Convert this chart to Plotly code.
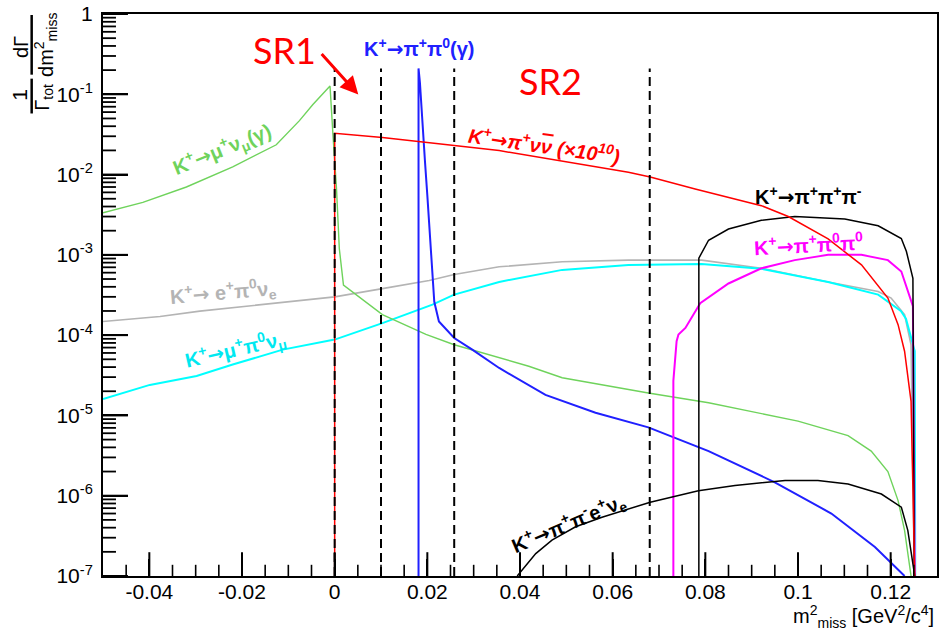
import math
import plotly.graph_objects as go

# ---------------- data ----------------
# K+ -> mu+ nu (gamma)
mu_nu_x = [-0.05, -0.0414, -0.032, -0.022, -0.0126, -0.0076, -0.0047, -0.001, -0.0004, 0.0,
           0.0004, 0.001, 0.0019, 0.0103, 0.0197, 0.0258, 0.0355, 0.0419, 0.0491, 0.0598,
           0.0677, 0.0807, 0.1, 0.1108, 0.1158, 0.1194, 0.1216, 0.123, 0.1244]
mu_nu_y = [3.35e-3, 4.5e-3, 7.0e-3, 1.25e-2, 2.35e-2, 4.7e-2, 7.45e-2, 0.127, 0.0335, 0.0164,
           6.6e-3, 1.2e-3, 4.2e-4, 1.8e-4, 1.02e-4, 7.6e-5, 5.2e-5, 4.1e-5, 2.95e-5, 2.3e-5,
           1.9e-5, 1.44e-5, 8.5e-6, 5.6e-6, 3.6e-6, 2.0e-6, 8.7e-7, 3.7e-7, 1e-7]

# K+ -> pi+ nu nubar (x 1e10)
pinn_x = [0.0, 0.0, 0.0103, 0.0258, 0.0355, 0.0634, 0.0681, 0.0778, 0.0807, 0.0921, 0.0979,
          0.1065, 0.1137, 0.1194, 0.1216, 0.123, 0.1244, 0.1252]
pinn_y = [1e-7, 0.0326, 0.029, 0.0229, 0.0199, 0.0107, 9.3e-3, 6.6e-3, 6.0e-3, 4.1e-3, 3.0e-3,
          1.58e-3, 7.5e-4, 2.9e-4, 1.35e-4, 6.3e-5, 1.5e-5, 1e-7]

# K+ -> pi+ pi0 (gamma)
pipi0_x = [0.0181, 0.0181, 0.0184, 0.0187, 0.0191, 0.0195, 0.0200, 0.0205, 0.0210, 0.0215,
           0.0225, 0.0258, 0.0297, 0.0355, 0.0455, 0.0563, 0.0677, 0.0807, 0.095, 0.1072,
           0.1166, 0.123]
pipi0_y = [1e-7, 0.21, 0.14, 0.068, 0.033, 0.0143, 5.5e-3, 2.1e-3, 6.8e-4, 2.6e-4,
           1.48e-4, 9.2e-5, 6.6e-5, 3.9e-5, 1.8e-5, 1.08e-5, 7.1e-6, 3.6e-6, 1.47e-6, 6.0e-7,
           2.3e-7, 1e-7]

# K+ -> e+ pi0 nu_e
ke3_x = [-0.05, -0.0377, -0.0291, -0.0184, -0.0076, 0.0, 0.0103, 0.0204, 0.0258, 0.0355,
         0.0491, 0.0634, 0.0792, 0.0921, 0.1065, 0.1173, 0.1201, 0.123, 0.1244, 0.1251]
ke3_y = [1.48e-4, 1.71e-4, 1.99e-4, 2.3e-4, 2.7e-4, 3.0e-4, 3.8e-4, 4.8e-4, 5.7e-4, 7.1e-4,
         8.2e-4, 8.6e-4, 8.6e-4, 6.8e-4, 4.6e-4, 3.5e-4, 2.9e-4, 1.8e-4, 7.6e-5, 1e-7]

# K+ -> mu+ pi0 nu_mu
km3_x = [-0.05, -0.0399, -0.0298, -0.022, -0.0112, 0.0, 0.0103, 0.0211, 0.0258, 0.0355,
         0.0491, 0.0634, 0.0792, 0.0921, 0.1065, 0.1173, 0.1222, 0.1233, 0.1252, 0.1253]
km3_y = [1.6e-5, 2.4e-5, 3.1e-5, 4.3e-5, 6.6e-5, 8.8e-5, 1.41e-4, 2.4e-4, 3.2e-4, 4.6e-4,
         6.5e-4, 7.5e-4, 7.7e-4, 6.7e-4, 4.6e-4, 3.2e-4, 2.0e-4, 1.6e-4, 6.3e-5, 1e-7]

# K+ -> pi+ pi+ pi-
k3pi_x = [0.0786, 0.0786, 0.0807, 0.085, 0.0921, 0.0993, 0.1101, 0.1173, 0.1223, 0.1234,
          0.1248, 0.1251]
k3pi_y = [1e-7, 9.1e-4, 1.52e-3, 2.1e-3, 2.7e-3, 3.0e-3, 2.8e-3, 2.3e-3, 1.6e-3, 1.1e-3,
          5.1e-4, 1e-7]

# K+ -> pi+ pi0 pi0
k3pi0_x = [0.0731, 0.0731, 0.0738, 0.0742, 0.0757, 0.0789, 0.085, 0.0921, 0.0993, 0.1065,
           0.1137, 0.1194, 0.1223, 0.1237, 0.1248, 0.1252]
k3pi0_y = [1e-7, 2.7e-5, 8.4e-5, 1.02e-4, 1.23e-4, 2.5e-4, 4.4e-4, 6.8e-4, 8.6e-4, 1.0e-3,
           1.0e-3, 8.6e-4, 6.2e-4, 3.5e-4, 2.3e-4, 1e-7]

# K+ -> pi+ pi- e+ nu_e
ke4_x = [0.0394, 0.0434, 0.0469, 0.052, 0.0577, 0.0681, 0.0785, 0.0864, 0.0972, 0.1043,
         0.1108, 0.118, 0.1223, 0.1237, 0.1252]
ke4_y = [1e-7, 1.9e-7, 2.8e-7, 4.1e-7, 5.4e-7, 8.3e-7, 1.15e-6, 1.34e-6, 1.55e-6, 1.55e-6,
         1.4e-6, 1.05e-6, 7.2e-7, 3.7e-7, 1e-7]

# signal-region boundaries (dashed lines)
cut_edges = [0.0, 0.010, 0.0258, 0.068]
cut_low, cut_top = 1e-7, 0.21

# axis ticks
X_MIN, X_MAX = -0.05, 0.13
Y_MIN, Y_MAX = 1e-7, 1.0
x_tickvals = [-0.04, -0.02, 0, 0.02, 0.04, 0.06, 0.08, 0.1, 0.12]
x_ticktext = ["-0.04", "-0.02", "0", "0.02", "0.04", "0.06", "0.08", "0.1", "0.12"]
x_minor = [-0.045, -0.035, -0.03, -0.025, -0.015, -0.01, -0.005, 0.005, 0.01, 0.015,
           0.025, 0.03, 0.035, 0.045, 0.05, 0.055, 0.065, 0.07, 0.075, 0.085, 0.09,
           0.095, 0.105, 0.11, 0.115, 0.125]
y_exponents = [-7, -6, -5, -4, -3, -2, -1, 0]
y_tickvals = [10.0 ** e for e in y_exponents]
y_ticktext = ["10<sup>%d</sup>" % e for e in y_exponents[:-1]] + ["1"]
y_minor = [m * 10.0 ** e for e in y_exponents[:-1] for m in range(2, 10)]

# ---------------- figure ----------------
GREEN = "#6fd35c"
GRAY = "#b4b4b4"
FONT = "Liberation Sans, Arial, sans-serif"
ARROW = '<span style="font-family:DejaVu Sans">→</span>'

L, R, T, B = 103, 2, 11, 61
W, H = 941, 637
PW, PH = W - L - R, H - T - B

fig = go.Figure()


def curve(x, y, color, width):
    fig.add_trace(go.Scatter(x=x, y=y, mode="lines", hoverinfo="skip",
                             line=dict(color=color, width=width)))


curve(ke3_x, ke3_y, GRAY, 1.6)
curve(km3_x, km3_y, "#00ffff", 2)
curve(mu_nu_x, mu_nu_y, GREEN, 1.4)
curve(pipi0_x, pipi0_y, "#2020ff", 2)
curve(k3pi0_x, k3pi0_y, "#ff00ff", 2)
curve(k3pi_x, k3pi_y, "#000000", 1.5)
curve(ke4_x, ke4_y, "#000000", 1.5)
curve(pinn_x, pinn_y, "#ff0000", 1.5)

for c in cut_edges:
    fig.add_trace(go.Scatter(x=[c, c], y=[cut_low, cut_top], mode="lines", hoverinfo="skip",
                             line=dict(color="black", width=2, dash="9px,5px")))


# ROOT-style inward tick marks on the bottom axis (markers clipped to the plot area)
def x_tick_marks(xs, length, width):
    fig.add_trace(go.Scatter(x=xs, y=[Y_MIN] * len(xs), mode="markers", hoverinfo="skip",
                             cliponaxis=True,
                             marker=dict(symbol="line-ns", size=2 * length, color="black",
                                         line=dict(color="black", width=width))))


x_tick_marks(x_tickvals, 17, 2)
x_tick_marks(x_minor, 8, 1.6)


def px(xp):
    return (xp - L) / PW


def py(yp):
    return (H - B - yp) / PH


def y_frac(v):
    return (math.log10(v) - math.log10(Y_MIN)) / (math.log10(Y_MAX) - math.log10(Y_MIN))


shapes = []
# ROOT-style inward tick marks on the left axis, drawn above everything
for vals, length, width in ((y_tickvals, 25, 2), (y_minor, 13, 1.8)):
    for v in vals:
        f = y_frac(v)
        shapes.append(dict(type="line", xref="paper", yref="paper", layer="above",
                           x0=0, x1=length / PW, y0=f, y1=f,
                           line=dict(color="black", width=width)))

annos = []


def label(text, color, xc, yc, angle=0, size=20, family=FONT):
    annos.append(dict(text=text, x=px(xc), y=py(yc), xref="paper", yref="paper",
                      xanchor="center", yanchor="middle", showarrow=False, textangle=angle,
                      font=dict(color=color, size=size, family=family)))


label("<b>K<sup>+</sup>" + ARROW + "π<sup>+</sup>π<sup>0</sup>(γ)</b>", "#2020ff", 420, 45)
label('<b><i>K<sup>+</sup>' + ARROW + 'π<sup>+</sup>ν<span style="text-decoration:overline">ν</span> (×10<sup>10</sup>)</i></b>',
      "#ff0000", 546, 143, 8)
label("<b>K<sup>+</sup>" + ARROW + "μ<sup>+</sup>ν<sub>μ</sub>(γ)</b>", GREEN, 222, 147, -22)
label("<b>K<sup>+</sup>" + ARROW + " e<sup>+</sup>π<sup>0</sup>ν<sub>e</sub></b>", GRAY, 224, 291, -5)
label("<b>K<sup>+</sup>" + ARROW + "μ<sup>+</sup>π<sup>0</sup>ν<sub>μ</sub></b>", "#00e8f0", 236, 348, -13)
label("<b>K<sup>+</sup>" + ARROW + "π<sup>+</sup>π<sup>+</sup>π<sup>-</sup></b>", "#000000", 810, 194)
label("<b>K<sup>+</sup>" + ARROW + "π<sup>+</sup>π<sup>0</sup>π<sup>0</sup></b>", "#ff00ff", 810, 242, -3)
label("<b>K<sup>+</sup>" + ARROW + "π<sup>+</sup>π<sup>-</sup>e<sup>+</sup>ν<sub>e</sub></b>", "#000000", 570, 523, -23)
label("SR1", "#ff0000", 285, 47, 0, 36, "Lato, sans-serif")
label("SR2", "#ff0000", 552, 78, 0, 36, "Lato, sans-serif")

# arrow from SR1 into the first signal region
annos.append(dict(text="", x=0.0051, y=-1.004, xref="x", yref="y", ax=-38, ay=-42,
                  showarrow=True, arrowcolor="#ff0000", arrowwidth=3, arrowhead=2,
                  arrowsize=1.2))

# y-axis title (two stacked fractions, rotated)
label("1", "#000000", 19, 92, -90, 21)
label("Γ<sub>tot</sub>", "#000000", 43, 95, -90, 20)
label("dΓ", "#000000", 21, 44, -90, 20)
label("dm<sup>2</sup><sub>miss</sub>", "#000000", 46, 42, -90, 20)

# x-axis title
annos.append(dict(text="m<sup>2</sup><sub>miss</sub> [GeV<sup>2</sup>/c<sup>4</sup>]",
                  x=px(938), y=py(617), xref="paper", yref="paper", xanchor="right",
                  yanchor="middle", showarrow=False,
                  font=dict(color="black", size=20, family=FONT)))

shapes += [
    dict(type="line", xref="paper", yref="paper", x0=px(31.5), x1=px(31.5), y0=py(12), y1=py(72),
         line=dict(color="black", width=2.5)),
    dict(type="line", xref="paper", yref="paper", x0=px(31.5), x1=px(31.5), y0=py(76), y1=py(111),
         line=dict(color="black", width=2.5)),
]

fig.update_layout(
    width=W, height=H,
    margin=dict(l=L, r=R, t=T, b=B, pad=0),
    paper_bgcolor="white", plot_bgcolor="white",
    showlegend=False,
    font=dict(family=FONT, color="black", size=20),
    annotations=annos,
    shapes=shapes,
    xaxis=dict(
        range=[X_MIN, X_MAX], showgrid=False, zeroline=False,
        showline=True, mirror=True, linecolor="black", linewidth=2,
        tickmode="array", tickvals=x_tickvals, ticktext=x_ticktext,
        ticks="inside", ticklen=17, tickwidth=2, tickcolor="black",
        tickfont=dict(size=21, family=FONT, color="black"),
        ticklabelstandoff=-4,
    ),
    yaxis=dict(
        type="log", range=[-7, 0], showgrid=False, zeroline=False,
        showline=True, mirror=True, linecolor="black", linewidth=2,
        tickmode="array", tickvals=y_tickvals, ticktext=y_ticktext,
        ticks="inside", ticklen=25, tickwidth=2, tickcolor="black",
        tickfont=dict(size=21, family=FONT, color="black"),
        ticklabelstandoff=4, ticklabeloverflow="allow",
    ),
)

fig.write_html("out.html", config={"displayModeBar": False},
               post_script="document.body.style.margin='0';document.body.style.overflow='hidden';")
